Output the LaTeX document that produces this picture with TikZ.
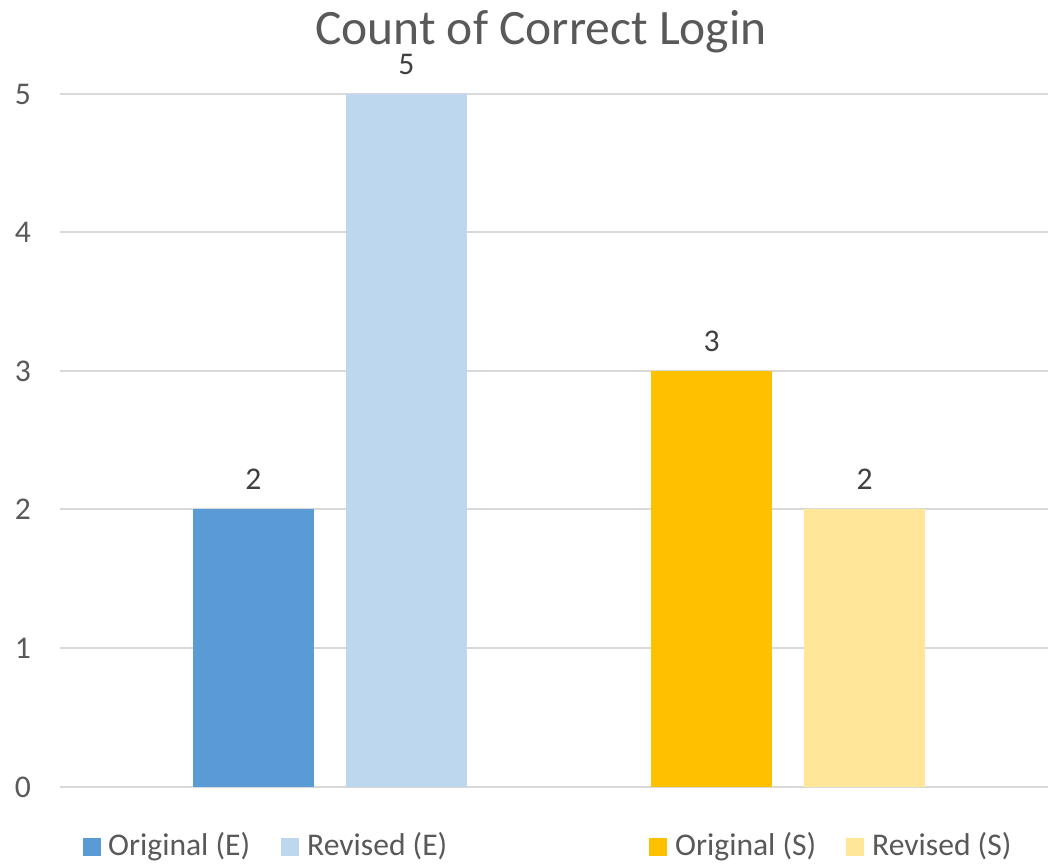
\documentclass[tikz,border=0pt]{standalone}
\usepackage{fontspec}
\setmainfont{Carlito}
\definecolor{axisgray}{HTML}{595959}
\definecolor{labelgray}{HTML}{404040}
\definecolor{gridgray}{HTML}{D9D9D9}
\definecolor{origE}{HTML}{5B9BD5}
\definecolor{revE}{HTML}{BDD7EE}
\definecolor{origS}{HTML}{FFC000}
\definecolor{revS}{HTML}{FFE699}
\tikzset{
  gridline/.style={draw=gridgray, line width=2pt},
  bar/.style={fill=#1, draw=none},
  ticklabel/.style={text=axisgray, anchor=base east, inner sep=0pt, font=\fontsize{31.6}{36}\selectfont},
  datalabel/.style={text=labelgray, anchor=base, inner sep=0pt, text height=20pt, text depth=0pt, font=\fontsize{31.6}{36}\selectfont},
  legendtext/.style={text=axisgray, anchor=base west, inner sep=0pt, font=\fontsize{31.6}{36}\selectfont},
  legendkey/.style={fill=#1, draw=none},
  charttitle/.style={text=axisgray, anchor=base, inner sep=0pt, text depth=0pt, font=\fontsize{49.5}{56}\selectfont}
}
\begin{document}
\begin{tikzpicture}[x=1pt,y=-1pt]
  \useasboundingbox[fill=white] (0,0) rectangle (1048,863);

  % title
  \node[charttitle] (title) at (541,44) {Count of Correct Login};

  % horizontal grid and value axis
  \foreach \v/\py in {0/787,1/648,2/509,3/371,4/232,5/94} {
    \draw[gridline] (60,\py) -- (1048,\py);
    \node[ticklabel] (tick\v) at (31,\py+10) {\v};
  }

  % bars (bottom at 787, 138.6 per unit)
  \fill[bar=origE] (193,787) rectangle (314,509);
  \fill[bar=revE]  (346,787) rectangle (467,94);
  \fill[bar=origS] (651,787) rectangle (772,371);
  \fill[bar=revS]  (804,787) rectangle (925,509);

  % data labels
  \node[datalabel] (lblOE) at (253.5,489) {2};
  \node[datalabel] (lblRE) at (406.5,74) {5};
  \node[datalabel] (lblOS) at (711.5,351) {3};
  \node[datalabel] (lblRS) at (864.5,489) {2};

  % legend
  \fill[legendkey=origE] (83,838) rectangle (101,856);
  \node[legendtext] (legOE) at (108,855) {Original (E)};
  \fill[legendkey=revE] (281,838) rectangle (299,856);
  \node[legendtext] (legRE) at (307,855) {Revised (E)};
  \fill[legendkey=origS] (649,838) rectangle (667,856);
  \node[legendtext] (legOS) at (675,855) {Original (S)};
  \fill[legendkey=revS] (846,838) rectangle (864,856);
  \node[legendtext] (legRS) at (872,855) {Revised (S)};
\end{tikzpicture}
\end{document}
